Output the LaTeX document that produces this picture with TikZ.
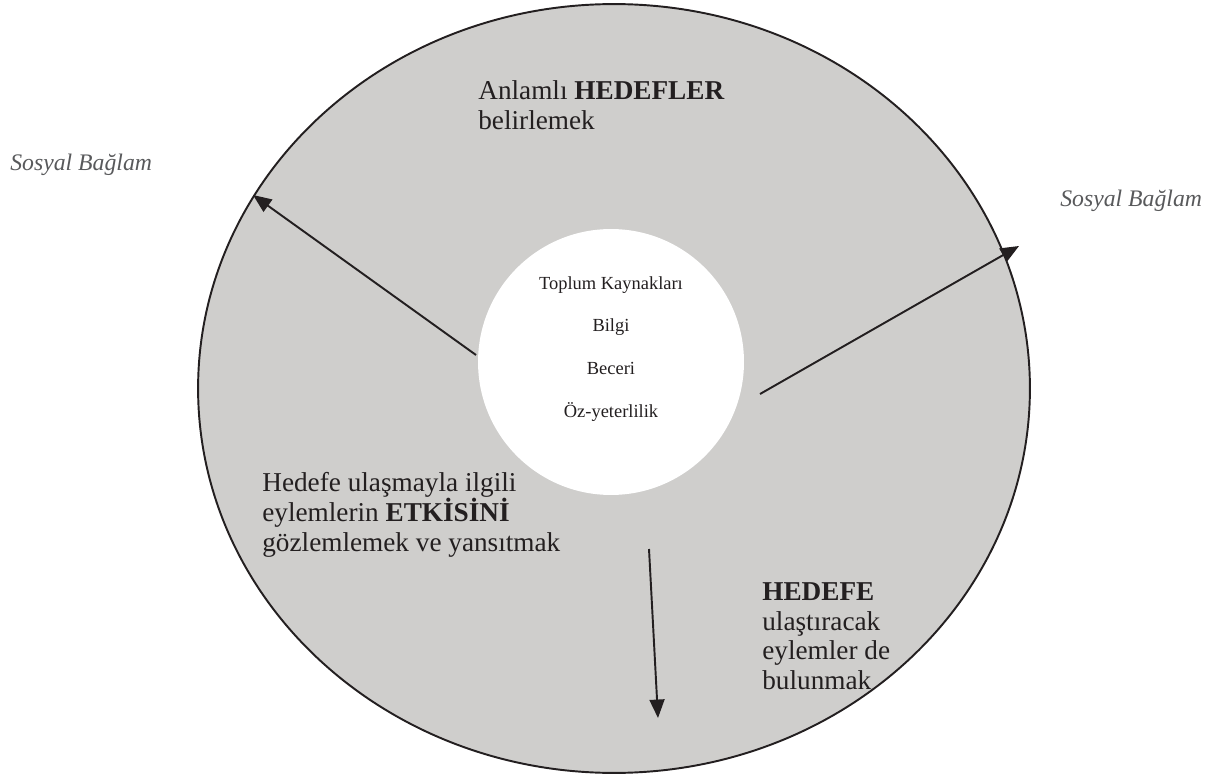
\documentclass[tikz,border=0pt]{standalone}
\usepackage{fontspec}
\setmainfont{Liberation Serif}
\usepackage{tikz}
\usetikzlibrary{arrows.meta,shapes.geometric}
\definecolor{halka}{RGB}{207,206,204}
\definecolor{murekkep}{RGB}{35,31,32}
\definecolor{soluk}{RGB}{88,89,91}
\tikzset{
  disdaire/.style={
    ellipse,
    draw=murekkep,
    line width=1.1pt,
    fill=halka,
    minimum width=16.64cm,
    minimum height=15.38cm
  },
  icdaire/.style={
    circle,
    fill=white,
    minimum size=5.32cm
  },
  buyukyazi/.style={
    anchor=north west,
    align=left,
    inner sep=0pt,
    text=murekkep,
    font=\fontsize{15.5}{17}\selectfont
  },
  kucukyazi/.style={
    align=center,
    inner sep=0pt,
    text=murekkep,
    font=\fontsize{10.5}{24.4}\selectfont
  },
  baglam/.style={
    anchor=north west,
    inner sep=0pt,
    text=soluk,
    font=\fontsize{13.5}{15}\selectfont\itshape
  },
  ok/.style={
    -{Triangle[length=10.5pt,width=8.5pt]},
    line width=1.1pt,
    murekkep
  }
}

\begin{document}
\begin{tikzpicture}[x=0.02cm,y=-0.02cm]
\useasboundingbox (0,0) rectangle (1212,776);
\node[disdaire] (dis) at (614,388.5) {};
\node[icdaire] (ic) at (611,362) {};
\node[kucukyazi] (kaynak) at (611,349) {Toplum Kaynakları\\Bilgi\\Beceri\\Öz-yeterlilik};

\node[buyukyazi] (hedef) at (478,80) {Anlamlı \textbf{HEDEFLER}\\belirlemek};
\node[buyukyazi] (etki) at (262,472) {Hedefe ulaşmayla ilgili\\eylemlerin \textbf{ETKİSİNİ}\\gözlemlemek ve yansıtmak};
\node[buyukyazi] (eylem) at (762,582) {\textbf{HEDEFE}\\ulaştıracak\\eylemler de\\bulunmak};

\node[baglam] (solbaglam) at (10,154) {Sosyal Bağlam};
\node[baglam] (sagbaglam) at (1060,190) {Sosyal Bağlam};

% oklar
\coordinate (sol1) at (476,355);
\coordinate (sol2) at (253,195);
\coordinate (sag1) at (760,394);
\coordinate (sag2) at (1019,246);
\coordinate (alt1) at (649,549);
\coordinate (alt2) at (658,718);
\draw[ok] (sol1) -- (sol2);
\draw[ok] (sag1) -- (sag2);
\draw[ok] (alt1) -- (alt2);
\end{tikzpicture}
\end{document}
